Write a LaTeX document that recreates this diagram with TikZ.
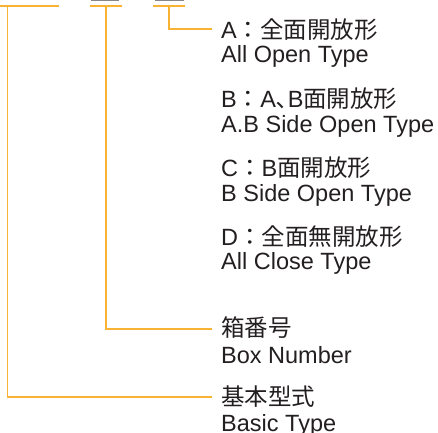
\documentclass[tikz,border=0pt]{standalone}
\usepackage{fontspec}
\setmainfont{Liberation Sans}
\newfontfamily\cjk{Noto Sans CJK JP}
\definecolor{ora}{RGB}{248,179,52}
\definecolor{gry}{RGB}{135,135,135}
\definecolor{ink}{RGB}{35,31,32}
\tikzset{
  lbl/.style={anchor=base west, inner sep=0pt, text=ink, font=\fontsize{23.5}{23.5}\selectfont},
  lead/.style={draw=ora, line width=1.8pt},
  topbar/.style={draw=ora, line width=2.2pt},
  graybar/.style={draw=gry, line width=1.8pt}
}
\begin{document}
\begin{tikzpicture}[x=1pt,y=-1pt]
\useasboundingbox (0,0) rectangle (438,432);
% bars
\draw[topbar] (0,5.8) -- (59,5.8);
\draw[topbar] (90,5.8) -- (122,5.8);
\draw[topbar] (153,5.8) -- (185,5.8);
\draw[graybar] (91,0.3) -- (119,0.3);
\draw[graybar] (155,0.3) -- (184,0.3);
\coordinate (s1) at (7.5,5.8);
\coordinate (s2) at (106,5.8);
\coordinate (s3) at (169,5.8);
\coordinate (e1) at (212,397);
\coordinate (e2) at (212,329);
\coordinate (e3) at (212,29);
\draw[lead] (s3) |- (e3);
\draw[lead] (s2) |- (e2);
\draw[lead] (s1) |- (e1);
% labels
\node[lbl] (a1) at (221,38) {A{\cjk ：全面開放形}};
\node[lbl] (a2) at (221,62.5) {All Open Type};
\node[lbl] (b1) at (221,107.5) {B{\cjk ：}A{\cjk ､}B{\cjk 面開放形}};
\node[lbl] (b2) at (221,132.5) {A.B Side Open Type};
\node[lbl] (c1) at (221,176.5) {C{\cjk ：}B{\cjk 面開放形}};
\node[lbl] (c2) at (221,201) {B Side Open Type};
\node[lbl] (d1) at (221,245) {D{\cjk ：全面無開放形}};
\node[lbl] (d2) at (221,269.5) {All Close Type};
\node[lbl] (n1) at (221,336) {\cjk 箱番号};
\node[lbl] (n2) at (221,363) {Box Number};
\node[lbl] (t1) at (221,405.5) {\cjk 基本型式};
\node[lbl] (t2) at (221,431) {Basic Type};
\end{tikzpicture}
\end{document}
